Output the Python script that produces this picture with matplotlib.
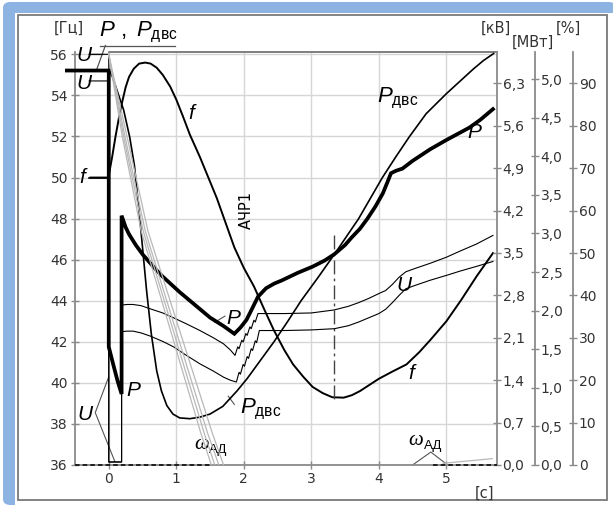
import matplotlib
matplotlib.use('Agg')
import matplotlib.pyplot as plt
from matplotlib.patches import Rectangle, FancyBboxPatch

plt.rcParams['font.family'] = ['DejaVu Sans']
plt.rcParams['mathtext.fontset'] = 'custom'
plt.rcParams['mathtext.rm'] = 'Liberation Sans'
plt.rcParams['mathtext.it'] = 'Liberation Sans:italic'

# ----------------------------------------------------------------
# data
# ----------------------------------------------------------------
# P (MW), thick line
t_P = [-0.62, 0.0, 0.0, 0.07, 0.13, 0.19, 0.19, 0.25, 0.3, 0.4, 0.5, 0.6, 0.7, 0.8, 0.9,
       1.05, 1.2, 1.35, 1.5, 1.7, 1.86, 1.95, 2.04, 2.12, 2.21, 2.33, 2.45, 2.56, 2.8, 3.02,
       3.2, 3.34, 3.5, 3.6, 3.72, 3.83, 3.95, 4.06, 4.13, 4.18, 4.25, 4.35, 4.5, 4.76, 5.0,
       5.34, 5.5, 5.69]
P_mw = [5.11, 5.11, 1.53, 1.29, 1.09, 0.92, 3.23, 3.08, 2.99, 2.85, 2.73, 2.63, 2.53, 2.44, 2.36,
        2.24, 2.13, 2.02, 1.91, 1.80, 1.70, 1.78, 1.88, 2.02, 2.18, 2.29, 2.35, 2.39, 2.49, 2.57,
        2.65, 2.73, 2.85, 2.95, 3.06, 3.19, 3.35, 3.52, 3.67, 3.78, 3.81, 3.84, 3.94, 4.09, 4.21,
        4.37, 4.47, 4.61]

# P_dvs (MW), engine power
t_Pd = [0.0, 0.05, 0.12, 0.22, 0.31, 0.38, 0.42, 0.46, 0.5, 0.56, 0.63, 0.71, 0.78, 0.86, 0.95,
        1.05, 1.2, 1.35, 1.5, 1.69, 1.9, 2.05, 2.2, 2.45, 2.65, 2.85, 3.1, 3.35, 3.7, 4.05,
        4.25, 4.45, 4.7, 5.0, 5.2, 5.4, 5.55, 5.7]
Pd_mw = [5.12, 5.04, 4.86, 4.60, 4.25, 3.88, 3.54, 3.19, 2.82, 2.26, 1.70, 1.22, 0.96, 0.77, 0.66,
         0.61, 0.60, 0.62, 0.66, 0.76, 0.96, 1.12, 1.30, 1.60, 1.86, 2.13, 2.43, 2.74, 3.19, 3.72,
         3.99, 4.25, 4.55, 4.81, 4.97, 5.13, 5.24, 5.33]

# f (Hz)
t_f = [-0.27, 0.0, 0.0, 0.05, 0.1, 0.15, 0.2, 0.25, 0.3, 0.37, 0.45, 0.54, 0.62, 0.71, 0.8,
       0.91, 1.0, 1.1, 1.2, 1.35, 1.5, 1.6, 1.73, 1.86, 2.0, 2.15, 2.3, 2.44, 2.6, 2.73,
       2.88, 3.02, 3.17, 3.31, 3.48, 3.6, 3.72, 3.86, 4.0, 4.2, 4.41, 4.6, 4.76, 5.0, 5.22,
       5.45, 5.69]
f_hz = [50.0, 50.0, 50.1, 51.0, 52.0, 52.9, 53.7, 54.4, 54.9, 55.3, 55.55, 55.6, 55.55, 55.35, 55.0,
        54.43, 53.8, 52.97, 52.1, 51.0, 49.8, 49.0, 47.8, 46.6, 45.6, 44.7, 43.6, 42.6, 41.6, 40.9,
        40.3, 39.8, 39.5, 39.3, 39.28, 39.4, 39.6, 39.9, 40.2, 40.55, 40.9, 41.5, 42.08, 43.0, 44.04,
        45.2, 46.32]

# U (kV), two buses
t_U1 = [-0.29, 0.0, 0.0, 0.19, 0.19, 0.27, 0.36, 0.48, 0.61, 0.8, 0.96, 1.15, 1.35, 1.55, 1.7,
        1.8, 1.87, 1.91, 1.93, 1.97, 1.99, 2.03, 2.05, 2.09, 2.11, 2.15, 2.17, 2.21, 2.24, 2.6,
        3.0, 3.34, 3.55, 3.7, 3.85, 4.0, 4.1, 4.2, 4.3, 4.4, 4.55, 4.76, 5.0, 5.2, 5.45, 5.69]
U1_kv = [6.78, 6.78, 0.05, 0.05, 2.64, 2.65, 2.65, 2.63, 2.58, 2.51, 2.43, 2.33, 2.22, 2.10, 2.00,
         1.90, 1.81, 1.95, 1.92, 2.06, 2.03, 2.17, 2.14, 2.28, 2.25, 2.39, 2.36, 2.50, 2.50, 2.50,
         2.51, 2.56, 2.62, 2.68, 2.75, 2.83, 2.88, 2.98, 3.10, 3.19, 3.25, 3.33, 3.43, 3.53, 3.65,
         3.79]
t_U2 = [-0.29, 0.0, 0.0, 0.19, 0.19, 0.27, 0.36, 0.48, 0.61, 0.8, 0.96, 1.15, 1.35, 1.55, 1.7,
        1.8, 1.89, 1.93, 1.95, 1.99, 2.01, 2.05, 2.07, 2.11, 2.13, 2.17, 2.19, 2.23, 2.26, 2.6,
        3.0, 3.34, 3.55, 3.7, 3.85, 4.0, 4.1, 4.2, 4.3, 4.4, 4.55, 4.76, 5.0, 5.2, 5.45, 5.69]
U2_kv = [6.34, 6.34, 0.05, 0.05, 2.20, 2.21, 2.21, 2.18, 2.13, 2.04, 1.95, 1.81, 1.67, 1.55, 1.45,
         1.40, 1.37, 1.53, 1.50, 1.66, 1.63, 1.79, 1.76, 1.92, 1.89, 2.05, 2.02, 2.22, 2.22, 2.22,
         2.23, 2.25, 2.30, 2.36, 2.43, 2.50, 2.57, 2.68, 2.80, 2.91, 2.97, 3.05, 3.13, 3.20, 3.28,
         3.36]

# omega_AD (%), motor speeds
omega_t = [[0.0, 0.20, 0.48, 1.36, 1.52],
           [0.0, 0.22, 0.51, 1.41, 1.57],
           [0.0, 0.24, 0.54, 1.46, 1.63],
           [0.0, 0.27, 0.58, 1.53, 1.70]]
omega_pct = [96.8, 77.5, 55.2, 7.7, 0.0]
t_w_late = [4.95, 5.68]
w_late_pct = [0.4, 1.5]
t_zero_a = [-0.5, 1.52]
t_zero_b = [4.8, 5.75]

# axes scales
hz_ticks = [36, 38, 40, 42, 44, 46, 48, 50, 52, 54, 56]
kv_ticks = [0.0, 0.7, 1.4, 2.1, 2.8, 3.5, 4.2, 4.9, 5.6, 6.3]
kv_labels = ['0,0', '0,7', '1,4', '2,1', '2,8', '3,5', '4,2', '4,9', '5,6', '6,3']
mw_ticks = [0.0, 0.5, 1.0, 1.5, 2.0, 2.5, 3.0, 3.5, 4.0, 4.5, 5.0]
mw_labels = ['0,0', '0,5', '1,0', '1,5', '2,0', '2,5', '3,0', '3,5', '4,0', '4,5', '5,0']
pct_ticks = [0, 10, 20, 30, 40, 50, 60, 70, 80, 90]
t_ticks = [0, 1, 2, 3, 4, 5]

# ----------------------------------------------------------------
W, H = 613, 505
fig = plt.figure(figsize=(W / 100, H / 100), dpi=100)

# blue page border + grey frame
fig.patches.append(FancyBboxPatch((3 / W, 0), 1, (H - 2) / H,
                                  boxstyle='round,pad=0,rounding_size=0.012',
                                  fc='#8DB3E2', ec='none', transform=fig.transFigure, zorder=-3))
fig.patches.append(Rectangle((15 / W, 0), 1, (H - 13) / H, fc='white', ec='none',
                             transform=fig.transFigure, zorder=-2))
fig.patches.append(Rectangle((18 / W, 5 / H), (607 - 18) / W, (500 - 15) / H, fill=False,
                             ec='#7a7a7a', lw=1.3, transform=fig.transFigure, zorder=-1))

ax = fig.add_axes([75 / W, 40 / H, 422 / W, 413.3 / H])
ax.set_xlim(-0.5, 5.75)
ax.set_ylim(36, 56.13)
ax.set_facecolor('none')

ax_kv = ax.twinx()
ax_mw = ax.twinx()
ax_pc = ax.twinx()
ax_kv.set_ylim(0, 6.823)
ax_mw.set_ylim(0, 5.354)
ax_pc.set_ylim(0, 97.48)
ax_mw.spines['right'].set_position(('axes', 1 + 38 / 422))
ax_pc.spines['right'].set_position(('axes', 1 + 76.3 / 422))

spine_c = '#8a8a8a'
txt_c = '#333333'
for a in (ax, ax_kv, ax_mw, ax_pc):
    a.spines['top'].set_visible(False)
for a in (ax_kv, ax_mw, ax_pc):
    a.spines['left'].set_visible(False)
    a.spines['bottom'].set_visible(False)
    a.spines['right'].set_color(spine_c)
    a.spines['right'].set_linewidth(1.3)
    a.tick_params(axis='y', direction='inout', length=6, width=1, colors=spine_c,
                  labelcolor=txt_c, labelsize=10, pad=1)
ax.spines['right'].set_visible(False)
ax.spines['left'].set_color(spine_c)
ax.spines['bottom'].set_color(spine_c)
ax.spines['left'].set_linewidth(1.3)
ax.spines['bottom'].set_linewidth(1.3)
ax.tick_params(axis='both', direction='inout', length=6, width=1, colors=spine_c,
               labelcolor=txt_c, labelsize=10, pad=2)

ax.set_yticks(hz_ticks)
ax.set_xticks(t_ticks)
ax_kv.set_yticks(kv_ticks)
ax_kv.set_yticklabels(kv_labels)
ax_mw.set_yticks(mw_ticks)
ax_mw.set_yticklabels(mw_labels)
ax_pc.set_yticks(pct_ticks)
ax.grid(True, color='#d6d6d6', lw=1)
ax.set_axisbelow(True)

# top line of the field
ax.plot([0, 5.75], [56.13, 56.13], color='#6a6a6a', lw=1.2, clip_on=False)

# curves
for wt in omega_t:
    ax_pc.plot(wt, omega_pct, color='#b8b8b8', lw=0.9)
ax_pc.plot(t_w_late, w_late_pct, color='#b8b8b8', lw=0.9)
ax_pc.plot(t_zero_a, [0, 0], color='black', lw=1.1, ls=(0, (3, 2)), clip_on=False)
ax_pc.plot(t_zero_b, [0, 0], color='black', lw=1.1, ls=(0, (3, 2)), clip_on=False)

ax_kv.plot(t_U1, U1_kv, color='black', lw=0.8)
ax_kv.plot(t_U2, U2_kv, color='black', lw=0.8)
ax.plot(t_f, f_hz, color='black', lw=1.4)
ax_mw.plot(t_Pd, Pd_mw, color='black', lw=1.2)
ax_mw.plot(t_P, P_mw, color='black', lw=2.7, clip_on=False, solid_joinstyle='miter')

# AChR1 marker line
ax.plot([3.33, 3.33], [47.2, 39.05], color='#444444', lw=1.0, ls=(0, (10, 3, 2, 3)))

# ----------------------------------------------------------------
# labels (positions in the Hz axis)
big = dict(fontsize=15, fontstyle='italic', family='Liberation Sans', color='black',
           ha='center', va='center')
ax.text(1.22, 53.1, 'f', **big)
ax.text(4.48, 40.45, 'f', **big)
ax.text(-0.39, 50.0, 'f', **big)
ax.text(5.42, 52.2, 'P', **big)
ax.text(1.84, 43.15, 'P', **big)
ax.text(0.37, 39.65, 'P', **big)
ax.text(4.38, 44.76, 'U', **big)
ax.text(-0.37, 55.95, 'U', **big)
ax.text(-0.37, 54.6, 'U', **big)
ax.text(-0.35, 38.44, 'U', **big)
ax.text(3.98, 53.85, r'$P_{\mathrm{двс}}$', fontsize=16, ha='left', va='center')
ax.text(1.95, 38.7, r'$P_{\mathrm{двс}}$', fontsize=16, ha='left', va='center')
ax.text(-0.14, 57.05, r'$P\ ,\ P_{\mathrm{двс}}$', fontsize=16, ha='left', va='center')
ax.text(2.04, 48.4, 'АЧР1', rotation=90, fontsize=10.5, ha='center', va='center', color='black')

lc = '#555555'
ax.plot([-0.13, 0.98], [56.43, 56.43], color=lc, lw=0.9, clip_on=False)
ax.plot([-0.18, -0.05], [55.25, 56.43], color=lc, lw=0.9, clip_on=False)
ax.plot([-0.29, -0.1], [56.0, 56.0], color=lc, lw=0.9)
ax.plot([-0.3, 0.0], [50.0, 50.0], color='black', lw=1.2)
ax.plot([1.57, 1.72], [42.95, 43.25], color=lc, lw=0.8)
ax.plot([1.77, 1.86], [39.35, 38.95], color=lc, lw=0.8)
ax.plot([0.0, -0.2, 0.09], [40.3, 38.55, 36.17], color=lc, lw=0.8)

# omega labels: italic omega + subscript
for wx, wy in [(1.48, 37.0), (4.66, 37.2)]:
    ax.text(wx, wy, 'ω', fontsize=15, fontstyle='italic', family='Liberation Serif',
            ha='right', va='center')
    ax.text(wx + 0.01, wy - 0.28, 'АД', fontsize=9.5, family='Liberation Sans',
            ha='left', va='center')
ax.plot([4.5, 4.77, 4.98], [36.0, 36.63, 36.1], color=lc, lw=0.8)

# unit labels
unit = dict(fontsize=10.5, color=txt_c, ha='center', va='center')
fig.text(69 / W, 1 - 28 / H, '[Гц]', **unit)
fig.text(496 / W, 1 - 28 / H, '[кВ]', **unit)
fig.text(533 / W, 1 - 42 / H, '[МВт]', **unit)
fig.text(568 / W, 1 - 28 / H, '[%]', **unit)
fig.text(485 / W, 1 - 493 / H, '[с]', **unit)

plt.savefig('out.png', dpi=100)
